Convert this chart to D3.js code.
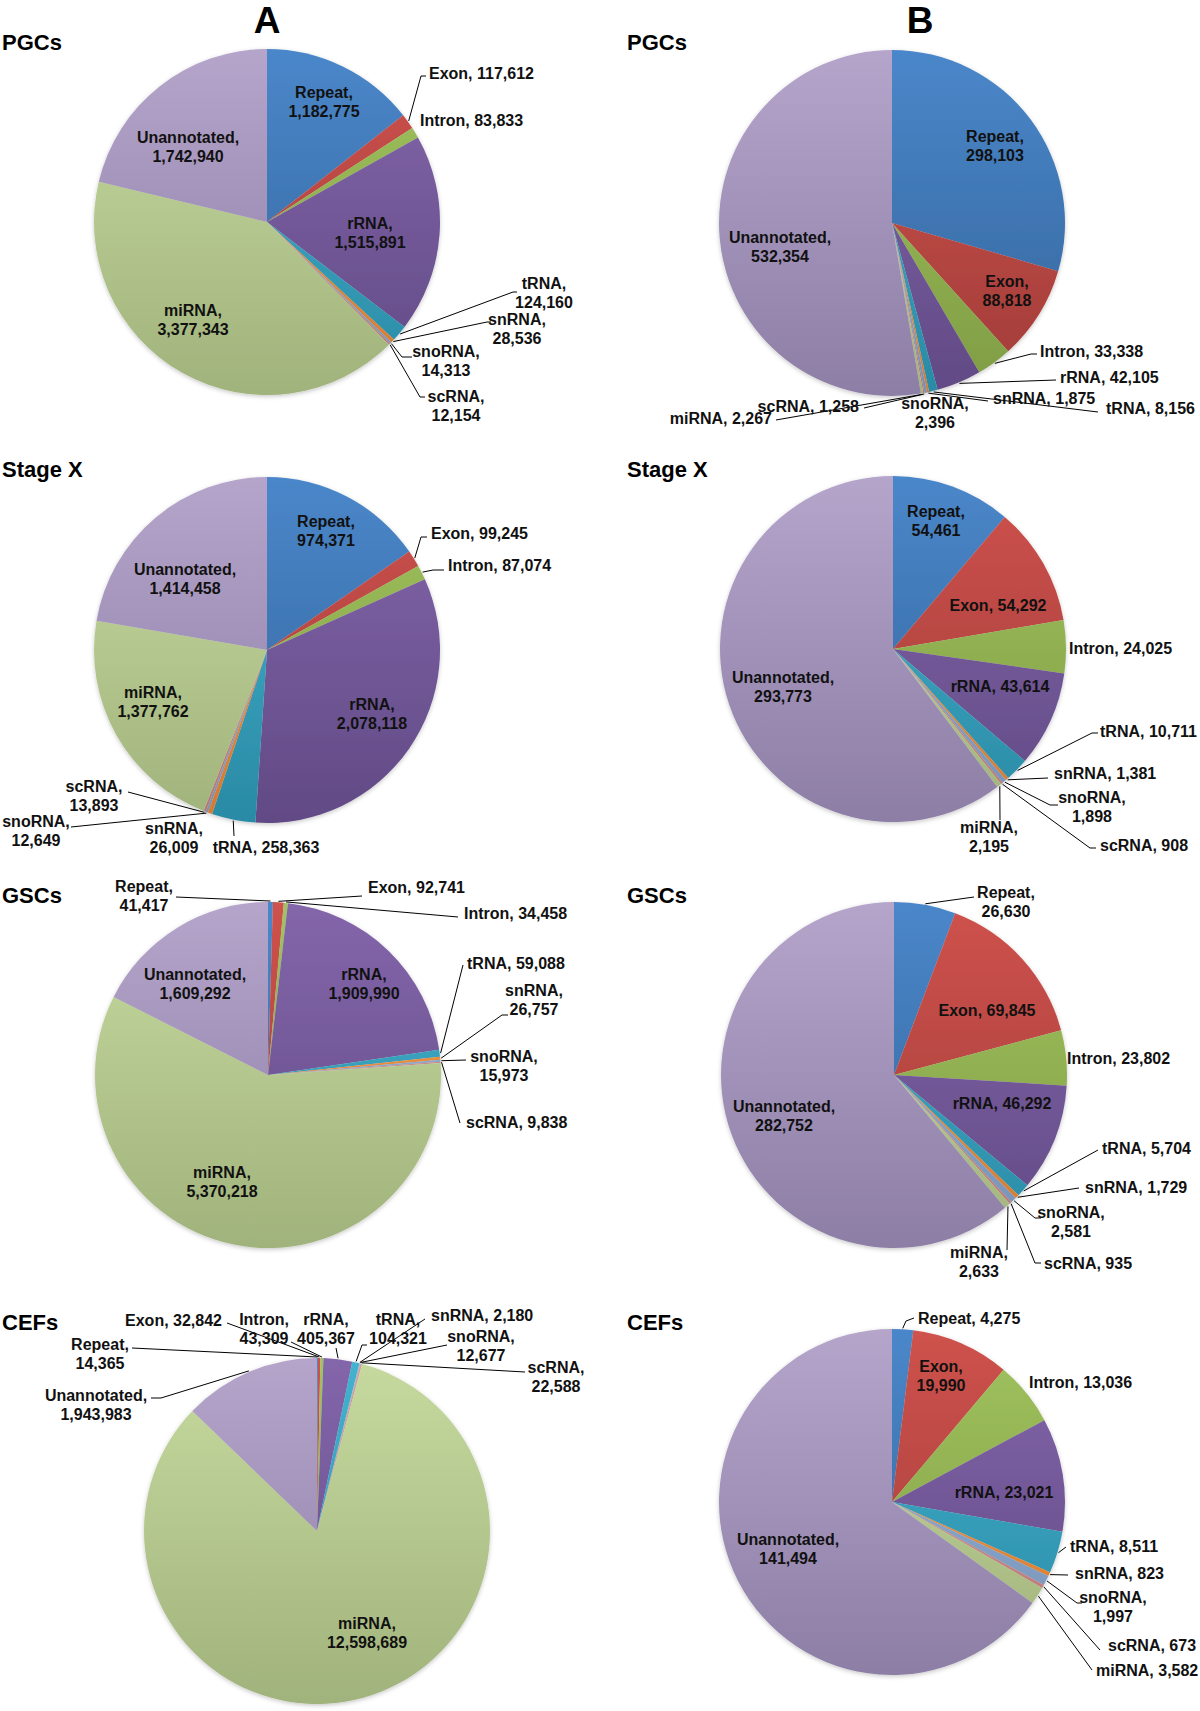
<!DOCTYPE html>
<html><head><meta charset="utf-8">
<script src="https://cdn.jsdelivr.net/npm/d3@7"></script>
<style>
body{margin:0;background:#fff}
text{font-family:"Liberation Sans",Arial,Helvetica,sans-serif;font-weight:bold}
</style>
</head><body>
<svg id="chart" width="1200" height="1711"></svg>
<script>
// ---------------- DATA ----------------
const categories = ["Repeat","Exon","Intron","rRNA","tRNA","snRNA","snoRNA","scRNA","miRNA","Unannotated"];
const panelLetters = ["A","B"];
const sampleNames = ["PGCs","Stage X","GSCs","CEFs"];

// Panel A (left column)
const pgcsA   = [1182775, 117612, 83833, 1515891, 124160, 28536, 14313, 12154, 3377343, 1742940];
const stageXA = [974371, 99245, 87074, 2078118, 258363, 26009, 12649, 13893, 1377762, 1414458];
const gscsA   = [41417, 92741, 34458, 1909990, 59088, 26757, 15973, 9838, 5370218, 1609292];
const cefsA   = [14365, 32842, 43309, 405367, 104321, 2180, 12677, 22588, 12598689, 1943983];
// Panel B (right column)
const pgcsB   = [298103, 88818, 33338, 42105, 8156, 1875, 2396, 1258, 2267, 532354];
const stageXB = [54461, 54292, 24025, 43614, 10711, 1381, 1898, 908, 2195, 293773];
const gscsB   = [26630, 69845, 23802, 46292, 5704, 1729, 2581, 935, 2633, 282752];
const cefsB   = [4275, 19990, 13036, 23021, 8511, 823, 1997, 673, 3582, 141494];

const panelSeries = {A: [pgcsA, stageXA, gscsA, cefsA], B: [pgcsB, stageXB, gscsB, cefsB]};

// ---------------- STYLE ----------------
const colorTop    = ["#4a87ca","#cf524d","#a1c35f","#8466ab","#43b3cf","#f99a4a","#98b6da","#dc9a98","#c6da9f","#b5a5cb"];
const colorBottom = ["#34649a","#a03c38","#7f9c43","#614a85","#2a8aa5","#d27a30","#7791b6","#b67572","#a1b37c","#8d7ea6"];

// ---------------- LAYOUT ----------------
const R = 173;
const pieCenters = {
  A: [[267,222],[267,650],[268,1075],[317,1531]],
  B: [[892,223],[893,649],[894,1075],[892,1502]]
};
const letterPos = {A: [267,33], B: [920,33]};
const rowTitleX = {A: 2, B: 627};
const rowTitleY = [50, 477, 903, 1330];

// label placement relative to pie centre: [dx, dy, anchor, lines, leader points]
const labelLayout = {
  A0: [[57,-120,'m',2,null],[162,-149,'s',1,[[154,-146],[159,-146]]],[153,-102,'s',1,null],[103,11,'m',2,null],
       [277,71,'m',2,[[246,70],[250,70]]],[250,107,'m',2,[[220,100],[224,100]]],[179,139,'m',2,[[135,135],[145,135]]],
       [189,184,'m',2,[[153,175],[158,175]]],[-74,98,'m',2,null],[-79,-75,'m',2,null]],
  B0: [[103,-77,'m',2,null],[115,68,'m',2,null],[148,128,'s',1,[[139,131],[145,131]]],[168,154,'s',1,[[164,157]]],
       [214,185,'s',1,[[206,189]]],[101,175,'s',1,[[96,178]]],[43,190,'m',2,null],
       [-33,183,'e',1,[[-28,185]]],[-120,195,'e',1,[[-116,197]]],[-112,24,'m',2,null]],
  A1: [[59,-119,'m',2,null],[164,-117,'s',1,[[154,-113],[160,-113]]],[181,-85,'s',1,[[166,-80],[177,-80]]],[105,64,'m',2,null],
       [-1,197,'m',1,[[-33,186]]],[-93,188,'m',2,null],[-231,181,'m',2,[[-196,177]]],
       [-173,146,'m',2,[[-139,142]]],[-114,52,'m',2,null],[-82,-71,'m',2,null]],
  B1: [[43,-128,'m',2,null],[105,-44,'m',1,null],[176,-1,'s',1,null],[107,37,'m',1,null],
       [207,82,'s',1,[[199,84],[205,84]]],[161,124,'s',1,[[155,129]]],[199,158,'m',2,[[157,156],[165,156]]],
       [207,196,'s',1,[[197,199],[203,199]]],[96,188,'m',2,[[107,171]]],[-110,38,'m',2,null]],
  A2: [[-124,-179,'m',2,[[-92,-178]]],[100,-188,'s',1,[[94,-179]]],[196,-162,'s',1,[[190,-158]]],[96,-91,'m',2,null],
       [199,-112,'s',1,[[195,-110]]],[266,-75,'m',2,[[234,-60],[240,-60]]],[236,-9,'m',2,[[198,-15]]],
       [198,47,'s',1,[[192,48]]],[-46,107,'m',2,null],[-73,-91,'m',2,null]],
  B2: [[112,-173,'m',2,[[80,-178]]],[93,-65,'m',1,null],[173,-17,'s',1,null],[108,28,'m',1,null],
       [208,73,'s',1,[[204,75]]],[191,112,'s',1,[[185,113]]],[177,147,'m',2,[[141,143],[147,143]]],
       [150,188,'s',1,[[141,188],[147,188]]],[85,187,'m',2,[[113,175]]],[-110,41,'m',2,null]],
  A3: [[-217,-177,'m',2,[[-185,-183]]],[-95,-211,'e',1,[[-90,-208]]],[-53,-202,'m',2,[[-26,-189]]],[9,-202,'m',2,[[19,-183]]],
       [81,-202,'m',2,[[45,-186],[50,-186]]],[114,-216,'s',1,[[108,-212]]],[164,-185,'m',2,[[130,-186]]],
       [239,-154,'m',2,[[208,-159]]],[50,102,'m',2,null],[-221,-126,'m',2,[[-156,-133],[-166,-133]]]],
  B3: [[26,-184,'s',1,[[14,-181],[22,-184]]],[49,-126,'m',2,null],[137,-120,'s',1,null],[112,-10,'m',1,null],
       [178,44,'s',1,[[174,45]]],[183,71,'s',1,[[176,73]]],[221,105,'m',2,[[185,101],[190,101]]],
       [216,143,'s',1,[[208,148]]],[204,168,'s',1,[[200,168]]],[-104,47,'m',2,null]]
};

// ---------------- DRAW ----------------
const svg = d3.select("#chart");
svg.append("rect").attr("width",1200).attr("height",1711).attr("fill","#fff");

const defs = svg.append("defs");
const shadow = defs.append("filter").attr("id","sh").attr("x","-10%").attr("y","-10%").attr("width","120%").attr("height","125%");
shadow.append("feDropShadow").attr("dx",0).attr("dy",1.5).attr("stdDeviation",2).attr("flood-color","#000").attr("flood-opacity",0.22);

categories.forEach((c,i)=>{
  const lg = defs.append("linearGradient").attr("id","grad"+i)
    .attr("gradientUnits","userSpaceOnUse").attr("x1",0).attr("y1",-R).attr("x2",0).attr("y2",R);
  lg.append("stop").attr("offset","0%").attr("stop-color",colorTop[i]);
  lg.append("stop").attr("offset","100%").attr("stop-color",colorBottom[i]);
});
const fillScale = d3.scaleOrdinal().domain(categories).range(categories.map((c,i)=>`url(#grad${i})`));

const pie = d3.pie().sort(null).value(d=>d.value);
const arc = d3.arc().innerRadius(0).outerRadius(R);
const fmt = d3.format(",");
const LH = 19;

// panel letters
panelLetters.forEach(p=>{
  svg.append("text").attr("x",letterPos[p][0]).attr("y",letterPos[p][1])
    .attr("text-anchor","middle").attr("font-size",37).attr("fill","#000").text(p);
});

panelLetters.forEach(p=>{
  panelSeries[p].forEach((vals,row)=>{
    // row title
    svg.append("text").attr("x",rowTitleX[p]).attr("y",rowTitleY[row])
      .attr("font-size",22).attr("fill","#000").text(sampleNames[row]);

    const [cx,cy] = pieCenters[p][row];
    const g = svg.append("g").attr("transform",`translate(${cx},${cy})`);
    const data = categories.map((c,i)=>({cat:c, value:vals[i], idx:i}));
    const arcs = pie(data);

    g.append("g").attr("filter","url(#sh)")
      .selectAll("path").data(arcs).join("path")
      .attr("d",arc).attr("fill",d=>fillScale(d.data.cat));

    const layout = labelLayout[p+row];
    // leader lines
    arcs.forEach((d,i)=>{
      const L = layout[i];
      if(!L[4]) return;
      const mid = (d.startAngle+d.endAngle)/2;
      const start = [(R+1)*Math.sin(mid), -(R+1)*Math.cos(mid)];
      g.append("path").attr("d", d3.line()([start, ...L[4]]))
        .attr("fill","none").attr("stroke","#000").attr("stroke-width",1);
    });
    // labels
    arcs.forEach((d,i)=>{
      const [dx,dy,anc,lines] = layout[i];
      const anchor = anc==='m'?'middle':(anc==='s'?'start':'end');
      const t = g.append("text").attr("text-anchor",anchor).attr("font-size",16).attr("fill","#111");
      if(lines===1){
        t.append("tspan").attr("x",dx).attr("y",dy).attr("dominant-baseline","central")
          .text(`${d.data.cat}, ${fmt(d.data.value)}`);
      } else {
        t.append("tspan").attr("x",dx).attr("y",dy-LH/2).attr("dominant-baseline","central").text(`${d.data.cat},`);
        t.append("tspan").attr("x",dx).attr("y",dy+LH/2).attr("dominant-baseline","central").text(fmt(d.data.value));
      }
    });
  });
});
</script>
</body></html>
